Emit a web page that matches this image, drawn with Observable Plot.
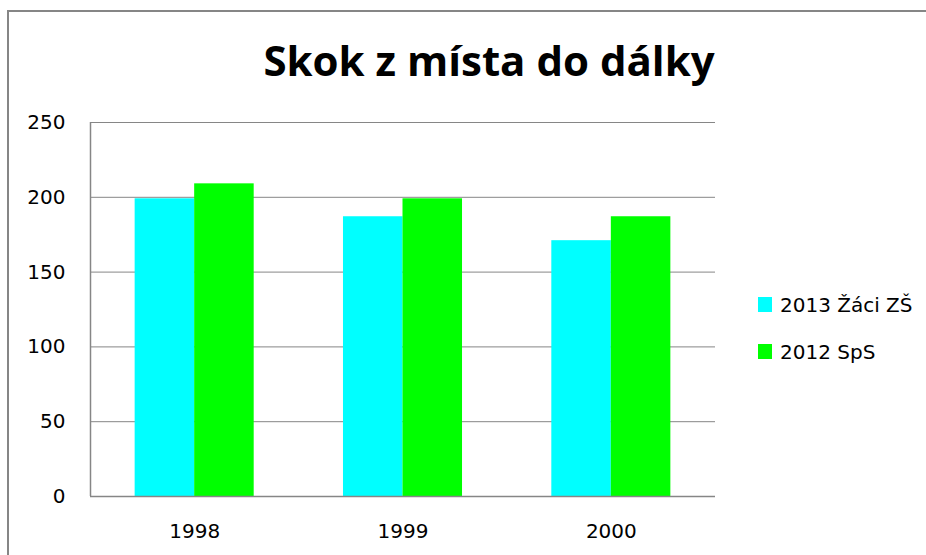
<!DOCTYPE html>
<html>
<head>
<meta charset="utf-8">
<script src="https://cdn.jsdelivr.net/npm/d3@7"></script>
<script src="https://cdn.jsdelivr.net/npm/@observablehq/plot@0.6"></script>
<style>
  html, body { margin: 0; padding: 0; background: #fff; overflow: hidden; width: 926px; height: 555px; }
  #wrap { position: relative; width: 926px; height: 555px; overflow: hidden; }
  #chart { position: absolute; left: 0; top: 0; }
  #frame { position: absolute; left: 7px; top: 10px; width: 919px; height: 545px;
           border-left: 2px solid #868686; border-top: 2px solid #868686;
           box-sizing: border-box; pointer-events: none; }
  #title { position: absolute; left: 489px; top: 38px; transform: translateX(-50%);
           font-family: "Open Sans", sans-serif; font-weight: bold; font-size: 42px;
           line-height: 43px; white-space: nowrap; color: #000; }
  .lg { position: absolute; left: 758px; font-family: "DejaVu Sans", sans-serif; font-size: 20px;
        line-height: 20px; color: #000; white-space: nowrap; }
  .lg .sw { position: absolute; left: 0; width: 14px; height: 15px; }
  .lg .tx { position: absolute; left: 22px; top: 0; }
</style>
</head>
<body>
<div id="wrap">
  <div id="chart"></div>
  <div id="title"></div>
  <div id="legend"></div>
  <div id="frame"></div>
</div>
<script>
const years = [1998, 1999, 2000];
const series = ["2013 Žáci ZŠ", "2012 SpS"];
const zaciZS = [199, 187, 171];
const spsValues = [209, 199, 187];
const colors = ["#00FFFF", "#00FF00"];
const yTicks = [0, 50, 100, 150, 200, 250];
const titleText = "Skok z místa do dálky";

const data = years.flatMap((yr, i) => [
  {year: yr, series: series[0], value: zaciZS[i], k: 0},
  {year: yr, series: series[1], value: spsValues[i], k: 1}
]);

const barW = 0.2857; // bar width as a fraction of one category step
const gray = "#868686";

const chart = Plot.plot({
  width: 926,
  height: 555,
  marginLeft: 90,
  marginRight: 211,
  marginTop: 122,
  marginBottom: 59,
  style: {fontFamily: "DejaVu Sans", fontSize: "20px", color: "#000", background: "transparent"},
  x: {type: "linear", domain: [years[0] - 0.5, years[years.length - 1] + 0.5], label: null},
  y: {domain: [0, 250], label: null},
  color: {domain: series, range: colors},
  marks: [
    Plot.ruleY(yTicks.filter(v => v > 0), {stroke: gray, strokeWidth: 1}),
    Plot.rect(data, {
      x1: d => d.year - barW + d.k * barW,
      x2: d => d.year + d.k * barW,
      y1: 0,
      y2: "value",
      fill: "series"
    }),
    Plot.ruleY([0], {stroke: gray, strokeWidth: 1.5}),
    Plot.ruleX([years[0] - 0.5], {y1: 0, y2: 250, stroke: gray, strokeWidth: 1.5}),
    Plot.axisX({ticks: years, tickFormat: d => String(d), tickSize: 0, tickPadding: 27, label: null}),
    Plot.axisY({ticks: yTicks, tickSize: 0, tickPadding: 25, label: null})
  ]
});
document.getElementById("chart").appendChild(chart);
document.getElementById("title").textContent = titleText;

const legend = document.getElementById("legend");
const rowTops = [295, 342];
series.forEach((s, i) => {
  const row = document.createElement("div");
  row.className = "lg";
  row.style.top = rowTops[i] + "px";
  const sw = document.createElement("div");
  sw.className = "sw";
  sw.style.background = colors[i];
  sw.style.top = "2px";
  const tx = document.createElement("div");
  tx.className = "tx";
  tx.textContent = s;
  row.appendChild(sw);
  row.appendChild(tx);
  legend.appendChild(row);
});
</script>
</body>
</html>
